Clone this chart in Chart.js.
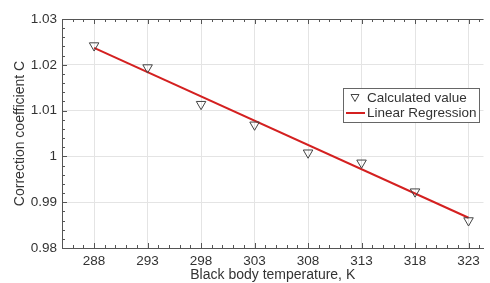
<!DOCTYPE html>
<html>
<head>
<meta charset="utf-8">
<script src="https://cdn.jsdelivr.net/npm/chart.js@4/dist/chart.umd.min.js"></script>
<style>
  body { margin: 0; background: #fff; overflow: hidden; }
  canvas { display: block; }
</style>
</head>
<body>
<canvas id="myChart" width="490" height="283"></canvas>
<script>
// data
var temps = [288, 293, 298, 303, 308, 313, 318, 323];
var calcValues = [1.0242, 1.0194, 1.0114, 1.0069, 1.0008, 0.9986, 0.9923, 0.9860];
var regTemps = [288, 323];
var regValues = [1.0237, 0.9866];
var yTicks = [0.98, 0.99, 1, 1.01, 1.02, 1.03];

var FONT = '"Liberation Sans", Arial, sans-serif';
var TEXT = '#333';
var AXIS = '#555';

//inward minor/major ticks, top border and the boxed legend
var framePlugin = {
    id: 'frame',
    afterDraw: function(chart) {
        var c = chart.ctx, area = chart.chartArea;
        var xs = chart.scales.x, ys = chart.scales.y;
        c.save();
        c.strokeStyle = AXIS;
        c.lineWidth = 1;
        c.beginPath();
        c.moveTo(area.left, area.top + 0.5);
        c.lineTo(area.right, area.top + 0.5);
        for (var t = 285; t <= 324; t++) {
            var px = Math.round(xs.getPixelForValue(t)) + 0.5;
            var len = (temps.indexOf(t) >= 0) ? 5 : 3;
            c.moveTo(px, area.bottom);
            c.lineTo(px, area.bottom - len);
            c.moveTo(px, area.top);
            c.lineTo(px, area.top + len);
        }
        for (var k = 0; k <= 25; k++) {
            var v = 0.98 + k * 0.002;
            var py = Math.round(ys.getPixelForValue(v)) + 0.5;
            var l2 = (k % 5 === 0) ? 5 : 3;
            c.moveTo(area.left, py);
            c.lineTo(area.left + l2, py);
        }
        c.stroke();

        //legend
        var bx = 343.5, by = 88.5, bw = 136, bh = 34;
        c.fillStyle = '#fff';
        c.fillRect(bx, by, bw, bh);
        c.strokeStyle = '#666';
        c.strokeRect(bx, by, bw, bh);
        var ds = chart.data.datasets;
        c.font = '13.5px ' + FONT;
        c.fillStyle = TEXT;
        c.textBaseline = 'middle';
        c.fillText(ds[0].label, 367, 98);
        c.fillText(ds[1].label, 367, 113);
        //triangle
        c.strokeStyle = '#444';
        c.beginPath();
        c.moveTo(351, 94.5);
        c.lineTo(359, 94.5);
        c.lineTo(355, 101.5);
        c.closePath();
        c.stroke();
        c.strokeStyle = '#d42020';
        c.lineWidth = 2;
        c.beginPath();
        c.moveTo(346, 113);
        c.lineTo(365, 113);
        c.stroke();
        c.restore();
    }
};

var ctx = document.getElementById('myChart').getContext('2d');
var myChart = new Chart(ctx, {
    type: 'scatter',
    data: {
        datasets: [{
            label: 'Calculated value',
            data: temps.map(function(t, i) { return {x: t, y: calcValues[i]}; }),
            pointStyle: 'triangle',
            rotation: 180,
            pointRadius: 5.5,
            pointHoverRadius: 5.5,
            borderColor: '#444',
            borderWidth: 1,
            backgroundColor: 'rgba(0,0,0,0)',
            order: 0
        }, {
            label: 'Linear Regression',
            type: 'line',
            data: regTemps.map(function(t, i) { return {x: t, y: regValues[i]}; }),
            borderColor: '#d42020',
            borderWidth: 2,
            pointRadius: 0,
            fill: false,
            order: 1
        }]
    },
    options: {
        responsive: false,
        animation: false,
        devicePixelRatio: 1,
        layout: { padding: { top: 19, left: 0, right: 0, bottom: 0 } },
        plugins: { legend: { display: false }, tooltip: { enabled: false } },
        scales: {
            x: {
                type: 'linear',
                min: 285,
                max: 324.4,
                afterBuildTicks: function(scale) {
                    scale.ticks = temps.map(function(t) { return {value: t}; });
                },
                afterFit: function(scale) { scale.height = 35; },
                grid: { color: '#e4e4e4', drawTicks: false },
                border: { display: true, color: AXIS },
                ticks: {
                    padding: 5,
                    color: TEXT,
                    font: { family: FONT, size: 13.5 },
                    callback: function(v) { return String(v); }
                },
                title: {
                    display: true,
                    text: 'Black body temperature, K',
                    color: TEXT,
                    font: { family: FONT, size: 14 },
                    padding: { top: 0, bottom: -1 }
                }
            },
            y: {
                min: 0.98,
                max: 1.03,
                afterBuildTicks: function(scale) {
                    scale.ticks = yTicks.map(function(v) { return {value: v}; });
                },
                afterFit: function(scale) { scale.width = 62; },
                grid: { color: '#e4e4e4', drawTicks: false },
                border: { display: true, color: AXIS },
                ticks: {
                    padding: 5,
                    color: TEXT,
                    font: { family: FONT, size: 13.5 },
                    callback: function(v) { return String(Math.round(v * 100) / 100); }
                },
                title: {
                    display: true,
                    text: 'Correction coefficient C',
                    color: TEXT,
                    font: { family: FONT, size: 14 },
                    padding: { top: 11.5, bottom: 0 }
                }
            }
        }
    },
    plugins: [framePlugin]
});
</script>
</body>
</html>
